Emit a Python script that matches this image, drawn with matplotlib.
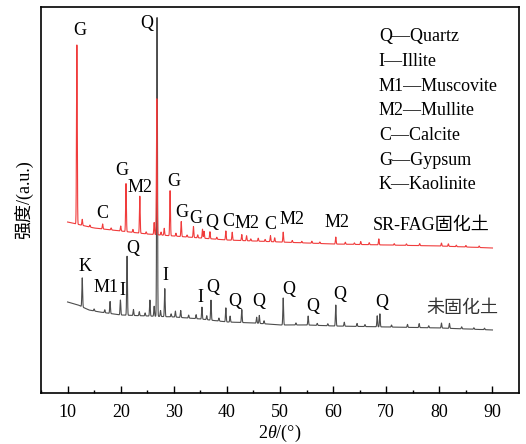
import numpy as np
import matplotlib
matplotlib.use("Agg")
import matplotlib.pyplot as plt

plt.rcParams["font.family"] = ["Liberation Serif", "Noto Sans CJK SC"]
plt.rcParams["mathtext.fontset"] = "custom"
plt.rcParams["mathtext.rm"] = "Liberation Serif"
plt.rcParams["mathtext.it"] = "Liberation Serif:italic"

# -------------------------------
# Data (intensity in a.u.)
# -------------------------------

# background of each pattern
red_bg_x = [10, 15, 20, 25, 30, 35, 40, 45, 50, 55, 60, 70, 80, 90]
red_bg_y = [171, 165, 162, 159, 157, 155, 153, 152, 151, 150, 149, 148, 147, 145]

gray_bg_x = [10, 12, 14, 16, 20, 25, 30, 35, 40, 45, 50, 55, 60, 70, 80, 90]
gray_bg_y = [91, 88, 83, 81, 78, 77, 76, 74, 71, 70, 68, 68, 67, 66, 65, 63]

# peaks: position (2theta) and height above background
red_peak_pos = [11.75, 12.76, 16.6, 20.0, 21.0, 23.6, 26.3, 26.8, 28.2, 29.3,
                31.4, 33.7, 35.4, 35.7, 36.8, 39.8, 41.0, 42.8, 43.7, 45.9,
                48.2, 49.0, 50.6, 60.5, 65.2, 68.6, 80.4, 81.7,
                14.2, 18.2, 22.3, 24.8, 27.6, 30.4, 32.5, 34.5, 38.1, 44.5,
                47.2, 52.3, 54.1, 56.0, 57.5, 62.3, 64.0, 66.8, 71.5, 73.8,
                76.3, 83.2, 85.0, 87.5]
red_peak_h = [181, 6, 5, 5, 48, 37, 12, 136, 7, 45,
              15, 11, 9, 7, 7, 9, 8, 6, 5, 3,
              6, 4, 10, 7, 3, 6, 3, 2.5,
              2, 2, 3, 2, 3, 3, 2, 3, 2, 2,
              2, 2, 1.5, 2, 1.5, 2, 1.5, 2, 1.5, 1.5,
              2, 1.5, 1.5, 1.5]

gray_peak_pos = [12.76, 18.0, 19.95, 21.2, 22.4, 25.5, 26.85, 28.3, 30.3, 31.3,
                 35.3, 37.0, 39.8, 40.6, 42.8, 46.1, 50.6, 55.3, 60.5, 62.1,
                 64.5, 68.3, 68.8, 74.0, 76.2, 80.4, 81.9, 84.2,
                 15.0, 17.0, 23.5, 24.6, 26.3, 27.5, 29.5, 32.8, 34.2, 36.2,
                 38.5, 45.6, 47.0, 53.0, 57.0, 59.0, 66.0, 71.0, 78.0, 86.5, 88.5]
gray_peak_h = [29, 12, 15, 59, 6, 16, 302, 28, 6, 7,
               12, 20, 14, 6, 13, 8, 27, 9, 21, 4,
               3, 11, 13, 3, 4, 5, 5, 2,
               2, 3, 4, 3, 10, 6, 3, 3, 4, 4,
               3, 6, 3, 2, 2, 2, 2, 2, 2, 1.5, 1.5]

# phase labels: text, 2theta, intensity
red_labels = [("G", 12.25, 363), ("Q", 24.9, 370), ("C", 16.6, 180),
              ("G", 20.3, 223), ("M2", 23.65, 206), ("G", 29.96, 212),
              ("G", 31.46, 181), ("G", 34.17, 175), ("Q", 37.17, 171),
              ("C", 40.3, 172), ("M2", 43.86, 170), ("C", 48.07, 169),
              ("M2", 52.2, 174), ("M2", 60.76, 171)]
gray_labels = [("K", 13.19, 126), ("Q", 22.26, 145), ("M1", 17.27, 105),
               ("I", 20.27, 102), ("I", 28.4, 117), ("I", 35.1, 95),
               ("Q", 37.4, 105), ("Q", 41.4, 91), ("Q", 46.06, 91),
               ("Q", 51.7, 103), ("Q", 56.07, 86), ("Q", 61.2, 98),
               ("Q", 69.2, 90)]

legend_lines = ["Q—Quartz", "I—Illite", "M1—Muscovite", "M2—Mullite",
                "C—Calcite", "G—Gypsum", "K—Kaolinite"]

sample_names = ["SR-FAG固化土", "未固化土"]


def pattern(bg_x, bg_y, pos, h, x):
    y = np.interp(x, bg_x, bg_y)
    for p, a in zip(pos, h):
        y = y + a * np.exp(-0.5 * ((x - p) / 0.07) ** 2)
    return y


tt = np.arange(10, 90.01, 0.02)
red = pattern(red_bg_x, red_bg_y, red_peak_pos, red_peak_h, tt)
gray = pattern(gray_bg_x, gray_bg_y, gray_peak_pos, gray_peak_h, tt)

# -------------------------------
# Plot
# -------------------------------

fig = plt.figure(figsize=(5.26, 4.44), dpi=100)
ax = fig.add_axes([0.078, 0.115, 0.9087, 0.869])

ax.plot(tt, gray, color="#4d4d4d", lw=0.8)
ax.plot(tt, red, color="#f03c3c", lw=0.8)

fs = 13
for t, x, y in red_labels + gray_labels:
    ax.text(x, y, t, ha="center", va="center", fontsize=fs)

for i, t in enumerate(legend_lines):
    ax.text(68.6, 356.3 - 24.7 * i, t, ha="left", va="center", fontsize=fs)

ax.text(67.46, 168, sample_names[0], ha="left", va="center", fontsize=fs)
ax.text(77.55, 84.7, sample_names[1], ha="left", va="center", fontsize=fs,
        color="#333333")

ax.set_xlim(5, 95)
ax.set_ylim(0, 386)
ax.set_xticks(range(10, 91, 10))
ax.set_xticks(range(5, 95, 10), minor=True)
ax.set_yticks([])
ax.tick_params(axis="x", which="major", direction="in", length=5, width=1,
               labelsize=fs, pad=8)
ax.tick_params(axis="x", which="minor", direction="in", length=2.5, width=1)
for s in ax.spines.values():
    s.set_linewidth(1.2)

ax.set_xlabel(r"2$\mathit{\theta}$/(°)", fontsize=fs, labelpad=1)
ax.set_ylabel("强度/(a.u.)", fontsize=fs, labelpad=6)

fig.savefig("out.png", dpi=100)
